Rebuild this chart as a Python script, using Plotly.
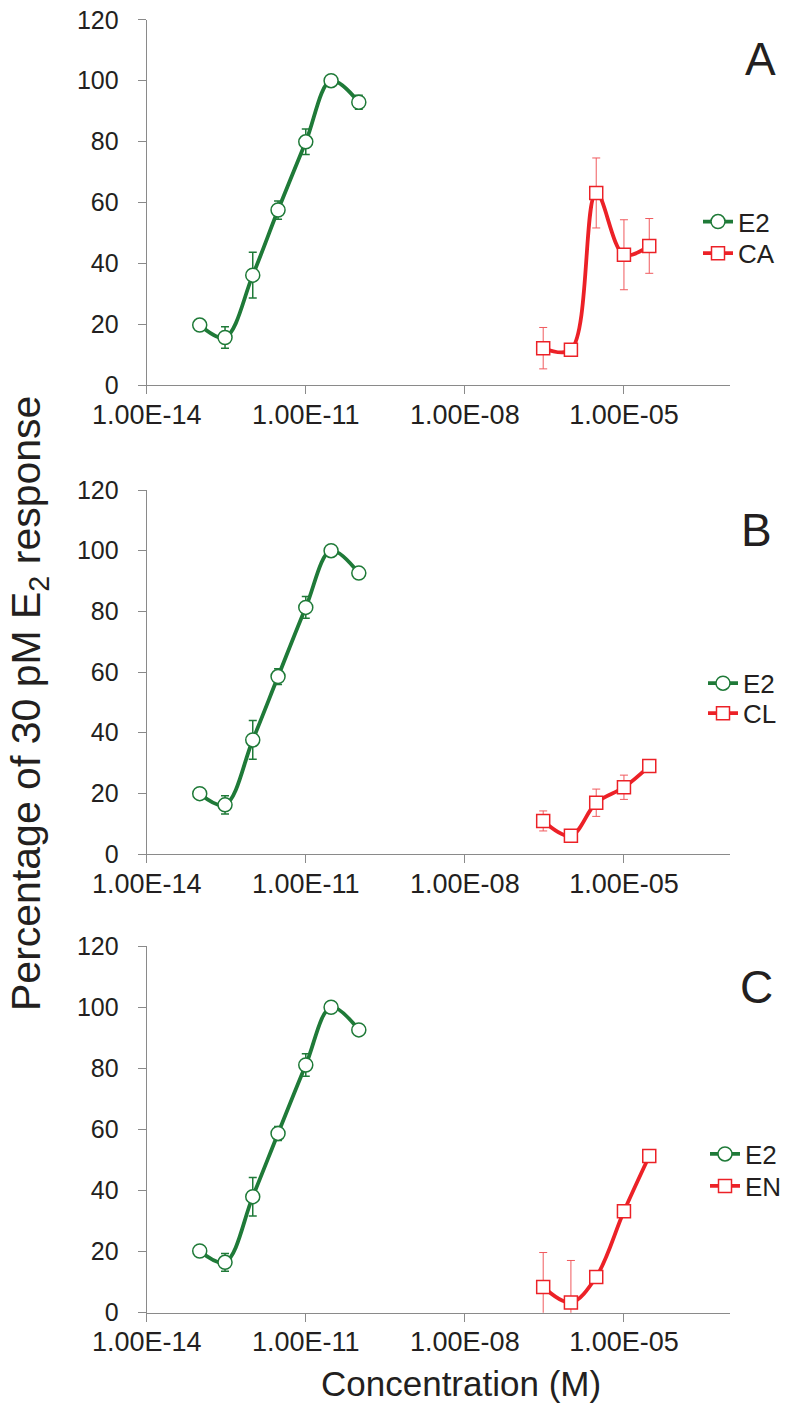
import plotly.graph_objects as go

# ---------------- data ----------------
conc_e2 = [1e-13, 3e-13, 1e-12, 3e-12, 1e-11, 3e-11, 1e-10]
conc_chem = [3e-7, 1e-6, 3e-6, 1e-5, 3e-5]

a_e2 = [19.7, 15.6, 36.1, 57.5, 79.9, 100, 92.9]
a_e2_err = [0, 3.5, 7.5, 3.0, 4.2, 0, 2.3]
a_ca = [12.1, 11.6, 63.1, 42.8, 45.7]
a_ca_err = [6.8, 1.0, 11.5, 11.5, 9.0]

b_e2 = [19.9, 16.2, 37.6, 58.5, 81.3, 100, 92.6]
b_e2_err = [0, 3.0, 6.4, 2.6, 3.6, 0, 1.5]
b_cl = [10.9, 6.0, 16.9, 22.0, 29.0]
b_cl_err = [3.3, 1.0, 4.5, 4.0, 0.5]

c_e2 = [20.2, 16.5, 38.0, 58.7, 81.1, 100, 92.6]
c_e2_err = [0, 2.9, 6.3, 2.3, 3.7, 0, 1.5]
c_en = [8.4, 3.3, 11.7, 33.2, 51.3]
c_en_err = [11.3, 13.8, 1.0, 1.0, 1.0]

panel_labels = ["A", "B", "C"]
chem_names = ["CA", "CL", "EN"]
x_tickvals = [1e-14, 1e-11, 1e-8, 1e-5]
x_ticktext = ["1.00E-14", "1.00E-11", "1.00E-08", "1.00E-05"]
y_tickvals = [0, 20, 40, 60, 80, 100, 120]

# ---------------- style ----------------
GREEN = "#1f7a38"
RED = "#ec2127"
RED_ERR = "#f05a5e"
AXIS = "#8a8a8a"
TXT = "#231f20"
FONT = "Liberation Sans, Arial, sans-serif"
H = 1404.0
W = 791.0

panels = [
    (a_e2, a_e2_err, a_ca, a_ca_err),
    (b_e2, b_e2_err, b_cl, b_cl_err),
    (c_e2, c_e2_err, c_en, c_en_err),
]
# plot-area pixel extents (top of 120, bottom at 0)
y_px = [(19.8, 385.0), (490.0, 854.0), (946.2, 1312.7)]
x_px = (146.7, 730.0)
# legend item centres (E2, chem) and left x
legend_y_px = [(221.7, 253.3), (683.3, 713.3), (1154.0, 1186.0)]
legend_x_px = [698.0, 703.0, 705.0]
letter_px = [(760, 59), (756, 530), (756, 987)]

fig = go.Figure()
legend_layout = {}

for i, (e2, e2err, ch, cherr) in enumerate(panels):
    n = "" if i == 0 else str(i + 1)
    xa = "x" + n
    ya = "y" + n
    lg1 = "legend" + ("" if i == 0 else str(2 * i + 1))
    lg2 = "legend" + str(2 * i + 2)
    fig.add_trace(go.Scatter(
        x=conc_e2, y=e2, name="E2", mode="lines+markers",
        xaxis=xa, yaxis=ya, legend=lg1,
        line=dict(color=GREEN, width=3.8, shape="spline", smoothing=1.0),
        marker=dict(symbol="circle", size=14, color="white",
                    line=dict(color=GREEN, width=1.5)),
        error_y=dict(type="data", array=e2err, visible=True,
                     color=GREEN, thickness=1.5, width=4),
    ))
    fig.add_trace(go.Scatter(
        x=conc_chem, y=ch, name=chem_names[i], mode="lines+markers",
        xaxis=xa, yaxis=ya, legend=lg2,
        line=dict(color=RED, width=3.8, shape="spline", smoothing=1.0),
        marker=dict(symbol="square", size=13, color="white",
                    line=dict(color=RED, width=1.5)),
        error_y=dict(type="data", array=cherr, visible=True,
                     color=RED_ERR, thickness=1, width=4),
    ))
    for lg, yy in ((lg1, legend_y_px[i][0]), (lg2, legend_y_px[i][1])):
        legend_layout[lg] = dict(x=legend_x_px[i] / W, xanchor="left",
                                 y=1 - yy / H, yanchor="middle",
                                 bgcolor="rgba(0,0,0,0)", borderwidth=0,
                                 font=dict(family=FONT, size=26, color=TXT))

    top, bot = y_px[i]
    axis_common = dict(showline=True, linecolor=AXIS, linewidth=1.2,
                       ticks="outside", ticklen=8, tickcolor=AXIS, tickwidth=1.2,
                       showgrid=False, zeroline=False, automargin=False)
    fig.update_layout(**{
        "xaxis" + n: dict(type="log", range=[-14, -3],
                          domain=[x_px[0] / W, x_px[1] / W],
                          anchor=ya, tickvals=x_tickvals, ticktext=x_ticktext,
                          ticklabelstandoff=-3,
                          tickfont=dict(family=FONT, size=27, color=TXT),
                          **axis_common),
        "yaxis" + n: dict(range=[0, 120], domain=[1 - bot / H, 1 - top / H],
                          anchor=xa, tickvals=y_tickvals,
                          ticklabelstandoff=14,
                          tickfont=dict(family=FONT, size=25, color=TXT),
                          **axis_common),
    })
    fig.add_annotation(text=panel_labels[i], x=letter_px[i][0] / W,
                       y=1 - letter_px[i][1] / H, xref="paper", yref="paper",
                       showarrow=False, xanchor="center", yanchor="middle",
                       font=dict(family=FONT, size=46, color=TXT))

fig.update_layout(**legend_layout)

fig.add_annotation(text="Percentage of 30 pM E<sub>2</sub> response",
                   x=29 / W, y=1 - 704 / H, xref="paper", yref="paper",
                   textangle=-90, showarrow=False, xanchor="center", yanchor="middle",
                   font=dict(family=FONT, size=41, color=TXT))
fig.add_annotation(text="Concentration (M)",
                   x=461 / W, y=1 - 1383 / H, xref="paper", yref="paper",
                   showarrow=False, xanchor="center", yanchor="middle",
                   font=dict(family=FONT, size=35, color=TXT))

fig.update_layout(width=791, height=1404,
                  margin=dict(l=0, r=0, t=0, b=0, autoexpand=False),
                  paper_bgcolor="white", plot_bgcolor="white",
                  showlegend=True)

fig.write_html("out.html")
